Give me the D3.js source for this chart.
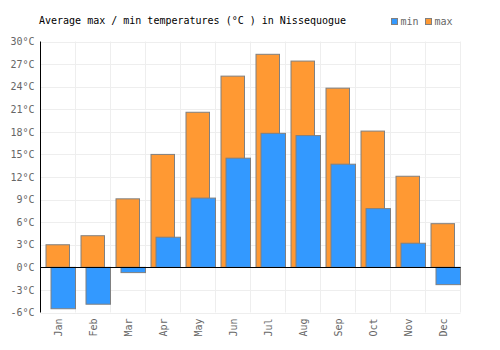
<!DOCTYPE html>
<html><head><meta charset="utf-8">
<script src="https://cdn.jsdelivr.net/npm/d3@7"></script>
<style>body{margin:0;background:#fff}svg{display:block}</style>
</head><body>
<svg id="c" width="500" height="350"></svg>
<script>
const months = ["Jan","Feb","Mar","Apr","May","Jun","Jul","Aug","Sep","Oct","Nov","Dec"];
const maxTemps = [3.0, 4.2, 9.1, 15.0, 20.6, 25.4, 28.3, 27.4, 23.8, 18.1, 12.1, 5.8];
const minTemps = [-5.5, -4.9, -0.7, 4.0, 9.2, 14.5, 17.8, 17.5, 13.7, 7.8, 3.2, -2.3];
const yTicks = [-6, -3, 0, 3, 6, 9, 12, 15, 18, 21, 24, 27, 30];
const title = "Average max / min temperatures (°C ) in Nissequogue";

const svg = d3.select("#c");
const font = "'DejaVu Sans Mono', monospace";
const L = 40.5, R = 460.5, T = 41.5, B = 312.5;
const x = d3.scaleBand().domain(months).range([L, R]).padding(0);
const y = d3.scaleLinear().domain([-6, 30]).range([B, T]);

// grid
const g = svg.append("g");
g.selectAll(".hg").data(yTicks).enter().append("line")
  .attr("x1", L).attr("x2", R).attr("y1", d => Math.round(y(d)) + 0.5).attr("y2", d => Math.round(y(d)) + 0.5)
  .attr("stroke", "#eeeeee").attr("stroke-width", 1);
g.selectAll(".vg").data(months).enter().append("line")
  .attr("x1", d => x(d) + x.bandwidth()).attr("x2", d => x(d) + x.bandwidth())
  .attr("y1", T).attr("y2", B)
  .attr("stroke", "#eeeeee").attr("stroke-width", 1);

const bw = 23.5;
svg.append("g").selectAll("rect").data(months).enter().append("rect")
  .attr("x", d => x(d) + 5.5).attr("width", bw)
  .attr("y", (d, i) => y(Math.max(0, maxTemps[i])))
  .attr("height", (d, i) => Math.abs(y(maxTemps[i]) - y(0)))
  .attr("fill", "#ff9933").attr("stroke", "#808080").attr("stroke-width", 1);
svg.append("g").selectAll("rect").data(months).enter().append("rect")
  .attr("x", d => x(d) + 10.5).attr("width", bw + 1)
  .attr("y", (d, i) => y(Math.max(0, minTemps[i])))
  .attr("height", (d, i) => Math.abs(y(minTemps[i]) - y(0)))
  .attr("fill", "#3399ff").attr("stroke", "#808080").attr("stroke-width", 1);

// zero line and left axis
svg.append("line").attr("x1", L).attr("x2", R).attr("y1", Math.round(y(0)) + 0.5).attr("y2", Math.round(y(0)) + 0.5)
  .attr("stroke", "#000").attr("stroke-width", 1);
svg.append("line").attr("x1", L).attr("x2", L).attr("y1", T).attr("y2", B)
  .attr("stroke", "#000").attr("stroke-width", 1);

// y labels
const yAxis = d3.axisLeft(y).tickValues(yTicks).tickSize(0).tickPadding(6).tickFormat(d => d + "°C");
const ya = svg.append("g").attr("transform", `translate(${L},0)`).call(yAxis);
ya.select(".domain").remove();
ya.selectAll("text").attr("font-family", font).attr("font-size", 10).attr("fill", "#666");

// x labels
const xAxis = d3.axisBottom(x).tickSize(0).tickPadding(0);
const xa = svg.append("g").attr("transform", `translate(0,${B})`).call(xAxis);
xa.select(".domain").remove();
xa.selectAll("text").attr("font-family", font).attr("font-size", 10).attr("fill", "#666")
  .attr("transform", "rotate(-90)").attr("text-anchor", "end").attr("dy", "0.35em")
  .attr("x", -6).attr("y", 0);

// title
svg.append("text").attr("x", 39).attr("y", 24).attr("font-family", font).attr("font-size", 10)
  .attr("fill", "#000").text(title);

// legend
const leg = [{n:"min", c:"#3399ff", x:391.5}, {n:"max", c:"#ff9933", x:425.5}];
leg.forEach(l => {
  svg.append("rect").attr("x", l.x).attr("y", 18.5).attr("width", 6).attr("height", 6)
    .attr("fill", l.c).attr("stroke", "#808080").attr("stroke-width", 1);
  svg.append("text").attr("x", l.x + 9).attr("y", 25).attr("font-family", font).attr("font-size", 10)
    .attr("fill", "#666").text(l.n);
});
</script>
</body></html>
